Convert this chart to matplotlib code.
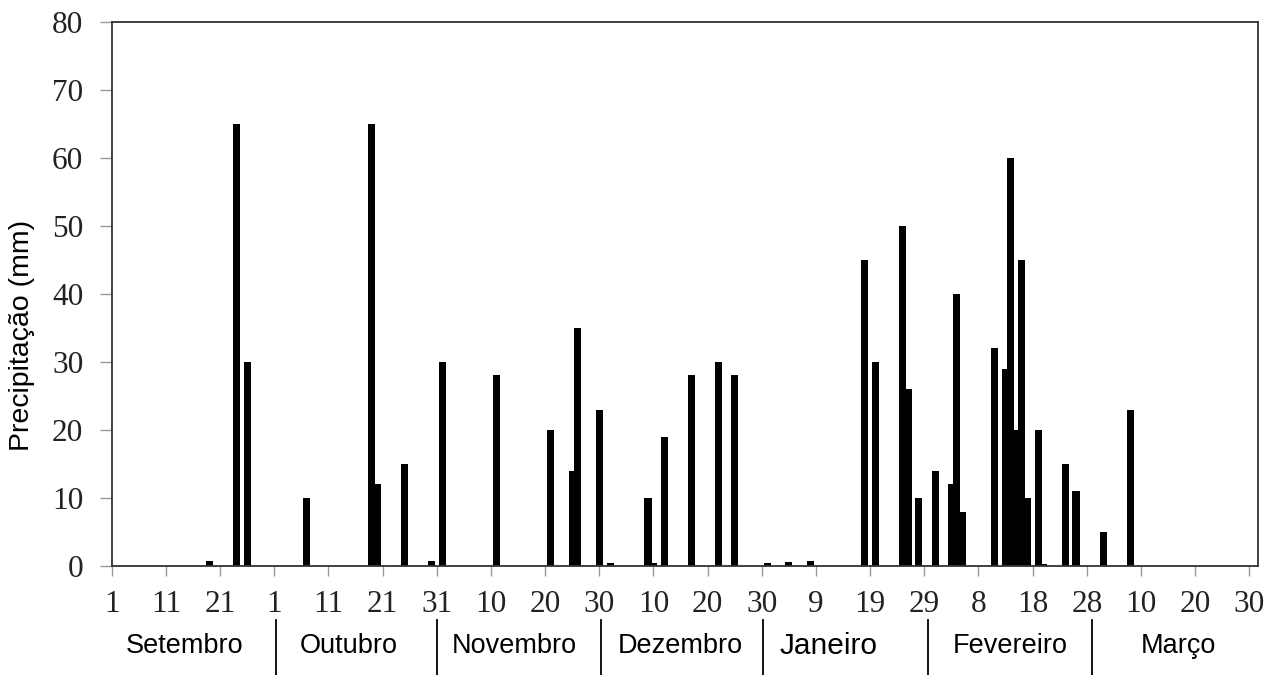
'''
Daily rainfall (mm) from September to March, drawn as a bar chart with
month names and separators under the day ticks.
'''
import matplotlib
matplotlib.use('Agg')
import matplotlib.pyplot as plt

# day index counted from 1 September (0) and rainfall on that day
days = [18, 23, 25, 36, 48, 49, 54, 59, 61, 71, 81, 85, 86, 90, 92, 99, 100,
        102, 107, 112, 115, 121, 125, 129, 139, 141, 146, 147, 149, 152, 155,
        156, 157, 163, 165, 166, 167, 168, 169, 171, 172, 176, 178, 183, 188]
rain = [0.8, 65, 30, 10, 65, 12, 15, 0.7, 30, 28, 20, 14, 35, 23, 0.5, 10, 0.4,
        19, 28, 30, 28, 0.5, 0.6, 0.7, 45, 30, 50, 26, 10, 14, 12,
        40, 8, 32, 29, 60, 20, 45, 10, 20, 0.3, 15, 11, 5, 23]

tick_pos = list(range(0, 211, 10))
tick_labels = ['1', '11', '21', '1', '11', '21', '31', '10', '20', '30', '10',
               '20', '30', '9', '19', '29', '8', '18', '28', '10', '20', '30']

months = ['Setembro', 'Outubro', 'Novembro', 'Dezembro', 'Janeiro',
          'Fevereiro', 'Março']
month_pos = [13.5, 43.8, 74.4, 104.9, 132.4, 165.9, 197.0]
separators = [30.3, 60, 90.3, 120.2, 150.7, 181]

W, H = 1281, 675
fig = plt.figure(figsize=(W / 100.0, H / 100.0), dpi=100)
ax = fig.add_axes([111.7 / W, 1 - 566.0 / H, (1258 - 111.7) / W, (566 - 21.7) / H])

ax.bar(days, rain, width=1.3, color='black', linewidth=0)

ax.set_xlim(0, 211.6)
ax.set_ylim(0, 80)
ax.set_yticks(range(0, 81, 10))
ax.set_xticks(tick_pos)
ax.set_xticklabels(tick_labels)

serif = ['Liberation Serif', 'DejaVu Serif']
for lab in ax.get_xticklabels() + ax.get_yticklabels():
    lab.set_family(serif)
    lab.set_fontsize(22.5)
    lab.set_color('#222222')

ax.tick_params(axis='x', direction='out', length=7, width=1, color='#999999', pad=10)
ax.tick_params(axis='y', direction='out', length=8.5, width=1, color='#999999', pad=12)

for s in ax.spines.values():
    s.set_color('#333333')
    s.set_linewidth(1.3)

# y label, a bit below the middle of the axis as in the original
fig.text(22.0 / W, 1 - 335.0 / H, 'Precipitação (mm)', rotation=90,
         ha='center', va='center', fontsize=20.5, family='Liberation Sans')

# month names and separators below the day ticks
trans = ax.get_xaxis_transform()
y_month = -80.0 / 544.3
for name, x in zip(months, month_pos):
    size = 21.5 if name == 'Janeiro' else 19.5
    ax.text(x, y_month, name, transform=trans, ha='center', va='center',
            fontsize=size, family='Liberation Sans', clip_on=False)
for x in separators:
    ax.plot([x, x], [-54.0 / 544.3, -110.0 / 544.3], transform=trans,
            color='black', linewidth=1.3, clip_on=False)

plt.savefig('out.png', dpi=100)
